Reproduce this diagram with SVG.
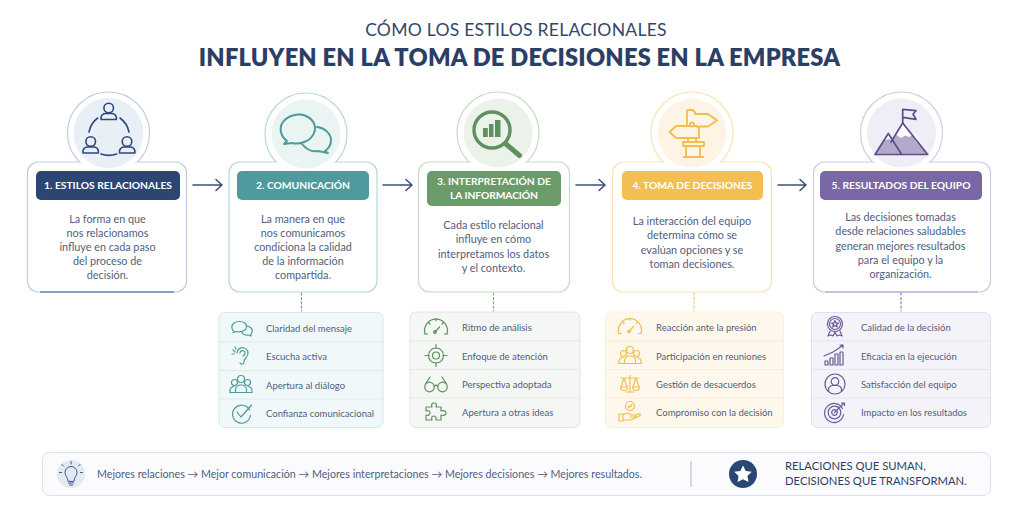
<svg xmlns="http://www.w3.org/2000/svg" width="1024" height="512" viewBox="0 0 1024 512">
<style>
text{font-family:Lato,"Open Sans","Liberation Sans",sans-serif}
.t1{font-size:17.6px;fill:#36466a;text-anchor:middle;letter-spacing:.22px}
.t2{font-size:23.6px;font-weight:800;fill:#2b3f66;text-anchor:middle;letter-spacing:.22px}
.h{font-size:10.3px;font-weight:700;fill:#fff;text-anchor:middle}
.b{font-size:10.8px;fill:#505e7d;text-anchor:middle}
.r{font-size:9.5px;fill:#505e7d}
.f{font-size:10.7px;fill:#505e7d}
.s{font-size:11.25px;fill:#2b3f66}
.ic{fill:none;stroke-width:1.2;stroke-linecap:round;stroke-linejoin:round}
.big{fill:none;stroke-linecap:round;stroke-linejoin:round}
.conn{fill:none;stroke:#3f5072;stroke-width:1.6;stroke-linecap:round;stroke-linejoin:round}
.dot{fill:none;stroke-width:1.2;stroke-dasharray:2 2.4}
.sep{stroke-width:1;opacity:.75}
</style>
<defs>
<g id="gauge"><path d="M-11 6A11.5 11.5 0 1 1 11 6"/><path d="M-11 6h2.5M11 6H8.500M-7.500-5.500l1.600 1.600M7.500-5.500L5.900-3.900M0-9.500v2.200"/><path d="M-1.500 4.500L3.500-1"/><circle cx="-1" cy="4" r="1.300"/></g>
<g id="people"><circle cx="0" cy="-6" r="3.500"/><circle cx="-6.500" cy="-2.500" r="3"/><circle cx="6.500" cy="-2.500" r="3"/><path d="M-11 7.500v-2a4 4 0 0 1 4-4M11 7.500v-2a4 4 0 0 0-4-4"/><path d="M-11 7.500H11M-5.500 7.500v-3a5 5 0 0 1 5-4.500h1a5 5 0 0 1 5 4.500v3"/></g>
</defs>
<rect width="1024" height="512" fill="#fff"/>
<text class="t1" x="516" y="36">CÓMO LOS ESTILOS RELACIONALES</text>
<text class="t2" x="519.500" y="66">INFLUYEN EN LA TOMA DE DECISIONES EN LA EMPRESA</text>

<g id="connectors" class="conn">
<path d="M193 185H222M216 179.500L222 185L216 190.500"/>
<path d="M383 185H412M406 179.500L412 185L406 190.500"/>
<path d="M576 185H605M599 179.500L605 185L599 190.500"/>
<path d="M778 185H806M800 179.500L806 185L800 190.500"/>
<path class="dot" stroke="#5fa0a3" d="M301.500 293V311"/>
<path class="dot" stroke="#86ab84" d="M493.500 293V311"/>
<path class="dot" stroke="#f3c46a" d="M694 293V311"/>
<path class="dot" stroke="#8c7fb5" d="M901 293V311"/>
</g>

<g id="node-1">
<circle cx="108.500" cy="133" r="41" fill="#fff" stroke="#c0cde2" stroke-width="1.200"/>
<rect x="27.500" y="162" width="159" height="130" rx="11" fill="#fff" stroke="#c0cde2" stroke-width="1.200"/>
<circle cx="108.500" cy="133" r="40" fill="#fff"/>
<circle cx="108.500" cy="133" r="35" fill="#e9eff7"/>
<path d="M40 292H174" stroke="#3f5a92" stroke-width="1.200" fill="none"/>
<g class="big" stroke="#2f4a78" stroke-width="1.600">
<circle cx="108.700" cy="108" r="4.800"/><path d="M101 119.500v-2a5 5 0 0 1 5-4h5.400a5 5 0 0 1 5 4v2z"/>
<circle cx="90.700" cy="141.500" r="4.800"/><path d="M83 153v-2a5 5 0 0 1 5-4h5.400a5 5 0 0 1 5 4v2z"/>
<circle cx="127" cy="141.500" r="4.800"/><path d="M119.500 153v-2a5 5 0 0 1 5-4h5.400a5 5 0 0 1 5 4v2z"/>
<path d="M89 132A23 23 0 0 1 97.700 118M120 118A23 23 0 0 1 129 132M101 154A23 23 0 0 0 116.700 154"/>
</g>
<rect x="36" y="171" width="144" height="29" rx="5" fill="#2c4674"/>
<text class="h" x="108" y="189" textLength="128">1. ESTILOS RELACIONALES</text>
<text class="b"><tspan x="107.500" y="223">La forma en que</tspan><tspan x="107.500" y="237">nos relacionamos</tspan><tspan x="107.500" y="251">influye en cada paso</tspan><tspan x="107.500" y="265">del proceso de</tspan><tspan x="107.500" y="279">decisión.</tspan></text>
</g>

<g id="node-2">
<circle cx="306" cy="134" r="41" fill="#fff" stroke="#b5d8d8" stroke-width="1.200"/>
<rect x="229" y="162" width="148" height="130" rx="11" fill="#fff" stroke="#b5d8d8" stroke-width="1.200"/>
<circle cx="306" cy="134" r="40" fill="#fff"/>
<circle cx="306" cy="134" r="34.500" fill="#e9f4f3"/>
<g class="big" stroke="#4e9a9c" stroke-width="2">
<path d="M287 141C280 136 279 127 283 122C288 115 299 113 306 116C313 119 317 126 314 133C311 141 300 145 292 143L284 144Z"/>
<path d="M317 127C325 128 331 134 331 140C331 146 328 149 325 151L328 153L318 151C312 152 306 149 302 144"/>
</g>
<rect x="237" y="171" width="132" height="29" rx="5" fill="#4e9a9c"/>
<text class="h" x="303" y="189" textLength="94">2. COMUNICACIÓN</text>
<text class="b"><tspan x="303" y="223">La manera en que</tspan><tspan x="303" y="237">nos comunicamos</tspan><tspan x="303" y="251">condiciona la calidad</tspan><tspan x="303" y="265">de la información</tspan><tspan x="303" y="279">compartida.</tspan></text>
</g>

<g id="node-3">
<circle cx="498" cy="133" r="41" fill="#fff" stroke="#c6dcc6" stroke-width="1.200"/>
<rect x="418.500" y="162" width="151" height="130" rx="11" fill="#fff" stroke="#c6dcc6" stroke-width="1.200"/>
<circle cx="498" cy="133" r="40" fill="#fff"/>
<circle cx="498" cy="133" r="34.500" fill="#ebf2ea"/>
<g class="big" stroke="#5f9160"><circle cx="492" cy="130" r="18" stroke-width="3.400"/><path d="M506 144L519.500 155.500" stroke-width="5"/></g>
<g fill="#5f9160"><rect x="483" y="128" width="4.800" height="9"/><rect x="489" y="124" width="4.500" height="13"/><rect x="495" y="120" width="5.500" height="17"/></g>
<rect x="427" y="171" width="134" height="35" rx="5" fill="#6a9b68"/>
<text class="h" x="494" y="185" textLength="114">3. INTERPRETACIÓN DE</text>
<text class="h" x="494" y="198.500" textLength="88">LA INFORMACIÓN</text>
<text class="b"><tspan x="493.500" y="229">Cada estilo relacional</tspan><tspan x="493.500" y="243.300">influye en cómo</tspan><tspan x="493.500" y="257.600">interpretamos los datos</tspan><tspan x="493.500" y="272">y el contexto.</tspan></text>
</g>

<g id="node-4">
<circle cx="692" cy="133" r="41" fill="#fff" stroke="#fbe3b4" stroke-width="1.200"/>
<rect x="612.500" y="162" width="159" height="130" rx="11" fill="#fff" stroke="#fbe3b4" stroke-width="1.200"/>
<circle cx="692" cy="133" r="40" fill="#fff"/>
<circle cx="692" cy="133" r="34.500" fill="#fdf4e5"/>
<g class="big" stroke="#f3bd4e" stroke-width="1.800">
<path d="M687 125V110.500Q687 110 691 110Q695 110 695 114H708L717 120.500L708 126.500H699"/>
<path d="M676 126H695Q699 126 699 130V138H676L669.500 132Z"/>
<circle cx="692" cy="124.500" r="2" fill="#fdf4e5"/>
<path d="M688 138V142M696 138V142M683 142H704V146H683ZM686 146V157M700 146V157M684 157H703"/>
</g>
<rect x="622" y="171" width="141" height="29" rx="5" fill="#f4bf52"/>
<text class="h" x="692.500" y="189" textLength="120">4. TOMA DE DECISIONES</text>
<text class="b"><tspan x="692" y="225">La interacción del equipo</tspan><tspan x="692" y="239.300">determina cómo se</tspan><tspan x="692" y="253.600">evalúan opciones y se</tspan><tspan x="692" y="268">toman decisiones.</tspan></text>
</g>

<g id="node-5">
<circle cx="901.500" cy="133" r="41" fill="#fff" stroke="#d0cbe4" stroke-width="1.200"/>
<rect x="813.500" y="162" width="177" height="130" rx="11" fill="#fff" stroke="#d0cbe4" stroke-width="1.200"/>
<circle cx="901.500" cy="133" r="40" fill="#fff"/>
<circle cx="901.500" cy="133" r="34.500" fill="#efedf5"/>
<path d="M825 292H978" stroke="#a79cd0" stroke-width="1.200" fill="none"/>
<path d="M875 154.500L888.300 133.500L893 140L902.700 123L927.700 154.500Z" fill="#b3aacb"/>
<path d="M902.700 123L896 134.500L901 138L905 135.500L909 137L913 134.500ZM888.300 133.500L884 140.500L888.500 139L892 140.500ZM916 134L913 137L917 143L920 142Z" fill="#fff"/>
<g class="big" stroke="#5d4e8a" stroke-width="1.700">
<path d="M875 154.500H927.700L902.700 123L891 142M875 154.500L888.300 133.500L901.700 154.500"/>
<path d="M902.700 123V109.300L916 110.700L913 114.300L916 119.300L903 117.300"/>
</g>
<rect x="820" y="171" width="162" height="29" rx="5" fill="#7a68a6"/>
<text class="h" x="901" y="189" textLength="139">5. RESULTADOS DEL EQUIPO</text>
<text class="b"><tspan x="900.500" y="221">Las decisiones tomadas</tspan><tspan x="900.500" y="235.300">desde relaciones saludables</tspan><tspan x="900.500" y="249.500">generan mejores resultados</tspan><tspan x="900.500" y="263.800">para el equipo y la</tspan><tspan x="900.500" y="278">organización.</tspan></text>
</g>

<g id="panel-2">
<rect x="219" y="312.500" width="164" height="115" rx="6" fill="#f1f8f9" stroke="#d5e8ea"/>
<path class="sep" stroke="#d5e8ea" d="M219 342H383M219 370.500H383M219 399H383"/>
<g class="ic" stroke="#4e9a9c">
<path transform="translate(242,328)" d="M-7 4C-11 2-11-3-8-5C-5-7 0-7 3-5C5-3 5 0 3 2C0 4-3 4-5 3.500L-9 4.500ZM5-2C9-1 11 1 10 4C10 5 9 6 9 6V8L6 7C3 7.500 0 6 0 4"/>
<path transform="translate(241,356)" d="M-4-3C-4-7 0-9 3-8C7-7 8-3 6 0C4 3 3 3 3 6C3 8 0 9-1 7M-1-3C-1-5 1-6 3-5C5-4 4-1 2 0M-8-6L-6-4M-9-2L-7-2M-6-9L-5-7"/>
<use href="#people" transform="translate(241,385)"/>
<g transform="translate(241.500,413)"><path d="M8-3A9 9 0 1 0 9 2"/><path d="M-4.500-1L-.5 4L10-8"/></g>
</g>
<text class="r"><tspan x="266" y="332">Claridad del mensaje</tspan><tspan x="266" y="360">Escucha activa</tspan><tspan x="266" y="389">Apertura al diálogo</tspan><tspan x="266" y="417">Confianza comunicacional</tspan></text>
</g>

<g id="panel-3">
<rect x="410" y="312" width="170" height="115.500" rx="6" fill="#f4f7f3" stroke="#dfe8dd"/>
<path class="sep" stroke="#dfe8dd" d="M410 341H580M410 369.500H580M410 398H580"/>
<g class="ic" stroke="#5f9160">
<use href="#gauge" transform="translate(436,328)"/>
<g transform="translate(436,355.500)"><circle r="7.500"/><circle r="3.500"/><path d="M0-11v4M0 7v4M-11 0h4M7 0h4"/></g>
<g transform="translate(436,383)"><circle cx="-6.500" cy="4" r="4.800"/><circle cx="6.500" cy="4" r="4.800"/><path d="M-1.700 3Q0 1.500 1.700 3M-10.500 1L-6-6M10.500 1L6-6"/></g>
<path transform="translate(436,412)" d="M-10-5H-4C-5-8-4-9-2-9C0-9 1-8 0-5H5V-1C8-2 10-1 10 1C10 3 8 4 5 3V8H0C1 5-1 4-2.500 4C-4 4-5 6-4 8H-10V3C-7 4-6 2-6 .5C-6-1-8-2-10-1Z"/>
</g>
<text class="r"><tspan x="462" y="331">Ritmo de análisis</tspan><tspan x="462" y="359.500">Enfoque de atención</tspan><tspan x="462" y="388">Perspectiva adoptada</tspan><tspan x="462" y="416">Apertura a otras ideas</tspan></text>
</g>

<g id="panel-4">
<rect x="605.500" y="312" width="178" height="115.500" rx="6" fill="#fef7ec" stroke="#fcefd9"/>
<path class="sep" stroke="#f8ebd6" d="M605 341H783M605 369.500H783M605 398H783"/>
<g class="ic" stroke="#f3bd4e">
<use href="#gauge" transform="translate(630,327.500)"/>
<use href="#people" transform="translate(630,356)"/>
<path transform="translate(630,384)" d="M0-9V8M-4 8H4M-9-6H9M-6-6L-9 3M-6-6L-3 3M6-6L3 3M6-6L9 3M-9.500 3A3.500 3.500 0 0 0-2.500 3ZM2.500 3A3.500 3.500 0 0 0 9.500 3Z"/>
<g transform="translate(630,412)"><circle cx="0" cy="-6" r="4.500"/><path d="M-2-6L-.5-4.500L2-7.500M-11 2H-7V9H-11ZM-7 3C-4 1-1 1 1 3H5C6 3 6 5 4 5H0M-7 8H1L10 3.500C11 2 9 1.500 8 2L5 3.500"/></g>
</g>
<text class="r"><tspan x="656" y="331">Reacción ante la presión</tspan><tspan x="656" y="359.500">Participación en reuniones</tspan><tspan x="656" y="388">Gestión de desacuerdos</tspan><tspan x="656" y="416">Compromiso con la decisión</tspan></text>
</g>

<g id="panel-5">
<rect x="811.500" y="312.500" width="179" height="115" rx="6" fill="#f4f3f9" stroke="#e2e0ee"/>
<path class="sep" stroke="#e2e0ee" d="M811 341H991M811 369.500H991M811 398H991"/>
<g class="ic" stroke="#6b5b95">
<g transform="translate(835,326)"><circle cy="-2" r="7.500"/><circle cy="-2" r="5.500"/><path d="M0-5.500L1-3H3.500L1.500-1.500L2.300 1L0-.5L-2.300 1L-1.500-1.500L-3.500-3H-1ZM-5 5L-7 10L-4 9L-2 10L0 6L2 10L4 9L7 10L5 5"/></g>
<path transform="translate(835,355)" d="M-10 6H-7V10H-10ZM-5 3H-2V10H-5ZM0-1H3V10H0ZM5-3H8V10H5ZM-11 1L-2-3L4-7L8-10M5-10H8V-7"/>
<g transform="translate(835,384)"><circle r="10"/><circle cy="-2.500" r="3.800"/><path d="M-6.500 7.500V5.500C-6.500 3-4 1.500-2 1.500H2C4 1.500 6.500 3 6.500 5.500V7.500"/></g>
<g transform="translate(834.500,412.500)"><path d="M8-4A9.500 9.500 0 1 0 9 2"/><circle r="6.300"/><circle r="2.800"/><path d="M0 0L9-9M7-9.500H10V-7"/></g>
</g>
<text class="r"><tspan x="861" y="331">Calidad de la decisión</tspan><tspan x="861" y="359.500">Eficacia en la ejecución</tspan><tspan x="861" y="388">Satisfacción del equipo</tspan><tspan x="861" y="416">Impacto en los resultados</tspan></text>
</g>

<g id="footer">
<rect x="42.500" y="452.500" width="948" height="43" rx="7" fill="#fbfbfd" stroke="#dbe0ec"/>
<circle cx="71" cy="474" r="14" fill="#e3e9f3"/>
<path fill="none" stroke="#3f5a85" stroke-width="1" stroke-linecap="round" d="M68 481C68 477 65 476 65 472.500A6 6 0 0 1 77 472.500C77 476 74 477 74 481ZM68.500 483H73.500M69.500 485H72.500M71 464V461.500M63.500 466L62 464.500M78.500 466L80 464.500M61.500 472.500H59.500M80.500 472.500H82.500"/>
<text class="f" x="97" y="478" textLength="545">Mejores relaciones → Mejor comunicación → Mejores interpretaciones → Mejores decisiones → Mejores resultados.</text>
<path d="M691 461V487" stroke="#aeb6c8"/>
<circle cx="743" cy="474" r="14" fill="#2c4674"/>
<path d="M743 465.500L745.700 471L751.800 471.800L747.400 476L748.500 482L743 479.200L737.500 482L738.600 476L734.200 471.800L740.300 471Z" fill="#fff"/>
<text class="s"><tspan x="785" y="470">RELACIONES QUE SUMAN,</tspan><tspan x="785" y="485">DECISIONES QUE TRANSFORMAN.</tspan></text>
</g>
</svg>
